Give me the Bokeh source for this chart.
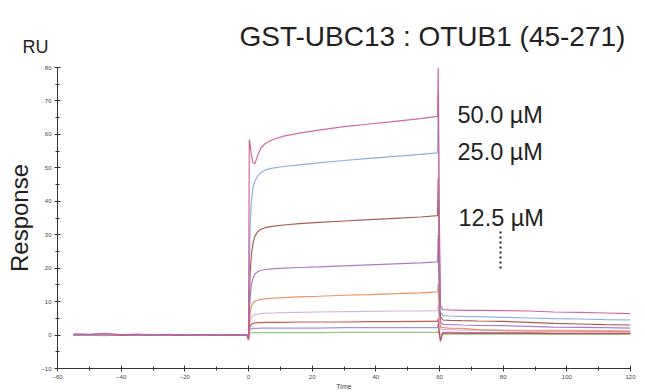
from bokeh.plotting import figure
from bokeh.layouts import column
from bokeh.models import Range1d, SingleIntervalTicker, FixedTicker, Label, Arrow
from bokeh.embed import file_html
from bokeh.resources import INLINE

# ---- data ----
time_s = [-55, -50, -45, -40, -35, -30, -25, -20, -15, -10, -5, -0.5,
          0.0, 0.25, 0.5, 0.9, 1.4, 2.0, 2.8, 3.8, 5.2, 7.5, 11, 16, 22, 30, 38, 46, 54, 59.4,
          59.6, 59.9, 60.3, 61, 63, 67, 72, 80, 88, 96, 104, 112, 120]

resp_50 = [0.3, 0.2, 0.5, 0.1, 0.2, 0.0, 0.2, 0.0, 0.1, 0.0, 0.1, 0.0,
           -1.2, 58.5, 57.0, 54.0, 51.5, 51.2, 53.5, 55.8, 57.2, 58.4, 59.5, 60.4, 61.3, 62.3, 63.1, 63.9, 64.7, 65.4,
           80.0, 40.0, 9.0, 7.6, 7.5, 7.4, 7.4, 7.3, 7.2, 6.9, 6.8, 6.6, 6.4]
resp_25 = [0.1, 0.0, 0.2, 0.1, 0.0, 0.1, 0.0, 0.1, 0.0, 0.1, 0.0, 0.1,
           -1.0, 18.0, 33.0, 40.0, 44.0, 46.0, 47.5, 48.5, 49.3, 49.9, 50.4, 50.9, 51.5, 52.2, 52.8, 53.4, 54.0, 54.5,
           72.0, 30.0, 7.0, 5.8, 5.7, 5.6, 5.5, 5.3, 5.1, 4.9, 4.8, 4.6, 4.5]
resp_12 = [0.2, 0.1, 0.3, 0.0, 0.1, 0.1, 0.0, 0.0, 0.1, 0.0, 0.0, 0.1,
           -1.0, 10.0, 18.0, 24.0, 27.5, 29.5, 30.8, 31.6, 32.1, 32.5, 32.9, 33.3, 33.7, 34.1, 34.5, 34.9, 35.3, 35.7,
           47.0, 20.0, 5.5, 4.5, 4.4, 4.3, 4.2, 4.1, 3.8, 3.5, 3.3, 3.1, 3.0]
resp_6 = [0.0, 0.1, 0.2, 0.0, 0.1, 0.0, 0.1, 0.0, 0.0, 0.1, 0.0, 0.0,
          -0.8, 6.0, 11.0, 15.0, 17.0, 18.2, 18.9, 19.3, 19.6, 19.8, 20.0, 20.2, 20.4, 20.7, 21.0, 21.3, 21.6, 21.9,
          30.0, 12.0, 4.0, 3.2, 3.1, 3.0, 2.9, 2.8, 2.6, 2.4, 2.3, 2.2, 2.1]
resp_3 = [0.1, 0.0, -0.2, 0.1, 0.0, 0.1, 0.0, 0.1, 0.0, 0.0, 0.1, 0.0,
          -0.8, 3.5, 6.5, 8.5, 9.6, 10.1, 10.4, 10.6, 10.8, 11.0, 11.2, 11.4, 11.6, 11.9, 12.1, 12.4, 12.6, 12.9,
          15.5, 8.0, 2.5, 2.2, 2.1, 2.0, 1.6, 1.3, 1.2, 1.2, 1.1, 1.1, 1.0]
resp_1 = [0.0, 0.1, 0.0, 0.1, 0.0, 0.0, 0.1, 0.0, 0.1, 0.0, 0.0, 0.0,
          -0.5, 2.5, 4.0, 5.2, 5.8, 6.1, 6.3, 6.4, 6.5, 6.6, 6.7, 6.8, 6.9, 7.0, 7.1, 7.2, 7.2, 7.3,
          9.0, 4.0, 1.8, 1.6, 1.6, 1.5, 1.5, 1.5, 1.4, 1.4, 1.4, 1.3, 1.3]
resp_08 = [0.2, 0.1, 0.1, 0.0, 0.2, 0.1, 0.0, 0.1, 0.0, 0.0, 0.1, 0.0,
           -1.5, 1.5, 2.6, 3.2, 3.5, 3.6, 3.7, 3.7, 3.8, 3.8, 3.8, 3.9, 3.9, 3.9, 4.0, 4.0, 4.1, 4.1,
           5.0, 1.0, -1.5, 0.6, 0.6, 0.5, 0.5, 0.5, 0.5, 0.4, 0.4, 0.4, 0.4]
resp_04 = [0.0, 0.0, 0.1, 0.0, 0.0, 0.1, 0.0, 0.0, 0.0, 0.1, 0.0, 0.0,
           -1.0, 1.0, 1.6, 1.9, 2.0, 2.0, 2.0, 2.1, 2.1, 2.1, 2.1, 2.1, 2.1, 2.2, 2.2, 2.2, 2.2, 2.2,
           3.5, 0.5, -2.0, 0.8, 0.8, 0.7, 0.7, 0.7, 0.7, 0.6, 0.6, 0.6, 0.6]
resp_0 = [0.0, 0.0, 0.0, 0.1, 0.0, 0.0, 0.0, 0.0, 0.0, 0.0, 0.0, 0.0,
          -0.5, 0.4, 0.6, 0.7, 0.7, 0.7, 0.7, 0.7, 0.7, 0.7, 0.7, 0.7, 0.7, 0.8, 0.8, 0.8, 0.8, 0.8,
          1.2, 0.4, 0.3, 0.3, 0.3, 0.3, 0.3, 0.3, 0.3, 0.3, 0.3, 0.3, 0.3]

series = [resp_0, resp_04, resp_08, resp_1, resp_3, resp_6, resp_12, resp_25, resp_50]
colors = ["#86c46e", "#958bd3", "#c9463e", "#d9a8dc", "#e8894c", "#a76cc8", "#9e4c3a", "#84a4e2", "#cc5896"]

title_text = "GST-UBC13 : OTUB1 (45-271)"
unit_text = "RU"
conc_labels = ["50.0 \u00b5M", "25.0 \u00b5M", "12.5 \u00b5M"]
x_ticks_interval = 20
y_ticks_interval = 10

FONT = "Liberation Sans"
TXT = "#231f20"

# ---- header strip: title (label in frame) and unit (as the strip's only y tick label) ----
HEAD_H = 63
head = figure(width=645, height=HEAD_H, output_backend="svg", toolbar_location=None,
              x_range=Range1d(0, 1), y_range=Range1d(0, HEAD_H),
              x_axis_type=None, min_border=0)
head.outline_line_color = None
head.background_fill_color = "white"
head.border_fill_color = "white"
head.xgrid.visible = False
head.ygrid.visible = False
unit_pos = HEAD_H - 46
hax = head.yaxis[0]
hax.ticker = FixedTicker(ticks=[unit_pos])
hax.major_label_overrides = {unit_pos: unit_text}
hax.axis_line_color = None
hax.major_tick_line_color = None
hax.minor_tick_line_color = None
hax.major_tick_in = 0
hax.major_tick_out = 0
hax.minor_tick_in = 0
hax.minor_tick_out = 0
hax.major_label_standoff = 9
hax.major_label_text_font = FONT
hax.major_label_text_font_size = "18px"
hax.major_label_text_color = TXT

def hlab(fig, text, x, y, size, color=TXT):
    fig.add_layout(Label(x=x, y=y, x_units="screen", y_units="screen", text=text,
                         text_font=FONT, text_font_size=size, text_color=color,
                         text_align="left", text_baseline="middle"))

# header frame is aligned with the main frame (left edge at page x = 57)
hlab(head, title_text, 239 - 57, HEAD_H - 36, "28px")

# ---- main sensorgram ----
p = figure(width=645, height=392 - HEAD_H, output_backend="svg", toolbar_location=None,
           x_range=Range1d(-60, 120), y_range=Range1d(-10, 80))
p.min_border_left = 57
p.min_border_right = 15
p.min_border_top = 4
p.min_border_bottom = 22
p.outline_line_color = None
p.xgrid.visible = False
p.ygrid.visible = False
p.background_fill_color = "white"
p.border_fill_color = "white"

for ys, c in zip(series, colors):
    p.line(time_s, ys, line_color=c, line_width=1.2, line_alpha=0.9)

p.xaxis.ticker = SingleIntervalTicker(interval=x_ticks_interval, num_minor_ticks=2)
p.yaxis.ticker = SingleIntervalTicker(interval=y_ticks_interval, num_minor_ticks=2)
for ax in (p.xaxis[0], p.yaxis[0]):
    ax.axis_line_color = "#333333"
    ax.axis_line_width = 1
    ax.major_tick_line_color = "#333333"
    ax.minor_tick_line_color = "#333333"
    ax.major_tick_in = 3
    ax.major_tick_out = 3
    ax.minor_tick_in = 2
    ax.minor_tick_out = 2
    ax.major_label_text_font_size = "6px"
    ax.major_label_text_color = "#444444"
    ax.major_label_text_font = FONT
    ax.major_label_standoff = 3

p.yaxis.axis_label = "Response"
p.yaxis.axis_label_text_font = FONT
p.yaxis.axis_label_text_font_size = "24px"
p.yaxis.axis_label_text_font_style = "normal"
p.yaxis.axis_label_text_color = TXT
p.yaxis.axis_label_standoff = 5

p.xaxis.axis_label = "Time"
p.xaxis.axis_label_text_font = FONT
p.xaxis.axis_label_text_font_size = "7px"
p.xaxis.axis_label_text_font_style = "normal"
p.xaxis.axis_label_text_color = "#444444"
p.xaxis.axis_label_standoff = 1

hlab(p, conc_labels[0], 400, 254, "23.5px")
hlab(p, conc_labels[1], 400, 217, "23.5px")
hlab(p, conc_labels[2], 401, 151, "23.5px")

p.add_layout(Arrow(end=None, x_start=443, y_start=137, x_end=443, y_end=100,
                   start_units="screen", end_units="screen",
                   line_color=TXT, line_width=2, line_dash="2 3"))

layout = column(head, p, spacing=0)
open("out.html", "w").write(file_html(layout, INLINE))
